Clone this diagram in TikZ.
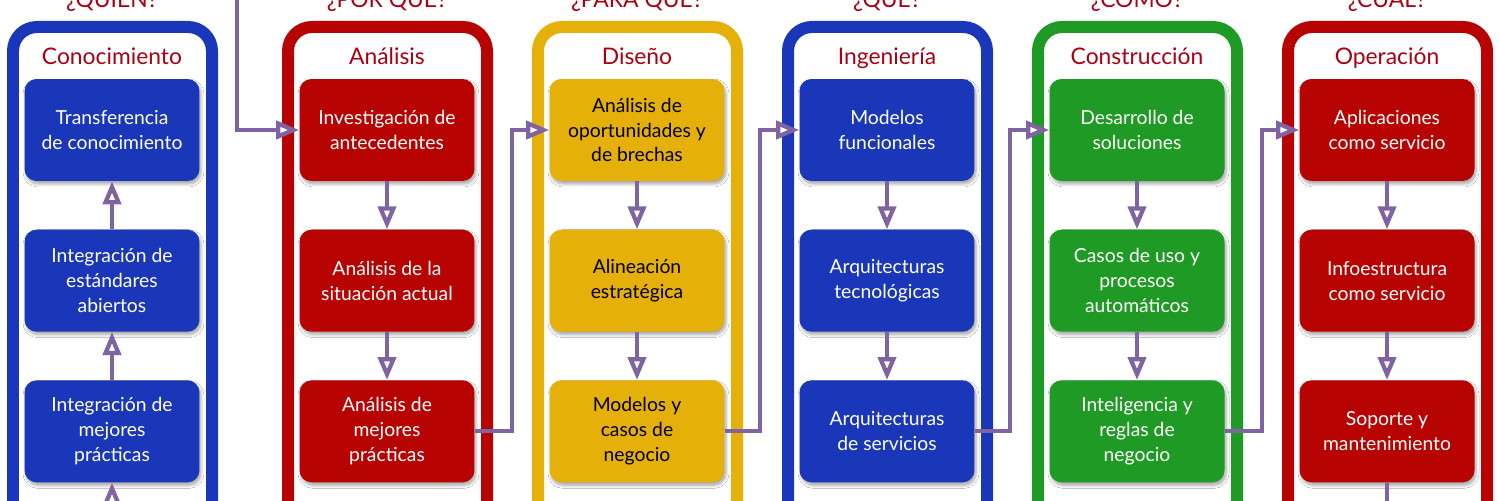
\documentclass[tikz,border=0pt]{standalone}
\usepackage{fontspec}
\setmainfont{Lato}
\usetikzlibrary{arrows.meta, positioning, shadows.blur}
\definecolor{cblue}{HTML}{1A37B9}
\definecolor{cred}{HTML}{B80303}
\definecolor{cgold}{HTML}{E6B00B}
\definecolor{cgreen}{HTML}{1F9A24}
\definecolor{titlered}{HTML}{AA0014}
\definecolor{flowpurple}{HTML}{8064A2}
\tikzset{
  colframe/.style={line width=2.4mm, rounded corners=4.8mm},
  stepbox/.style={rounded corners=2.4mm, minimum width=3.5cm, minimum height=2.04cm, inner sep=2pt,
    align=center, font=\fontsize{11}{14.2}\selectfont, text=white,
    blur shadow={shadow xshift=0.3mm, shadow yshift=-0.6mm, shadow blur steps=6, shadow blur radius=0.6mm, shadow opacity=35}},
  coltitle/.style={anchor=base, font=\fontsize{13}{15}\selectfont, text=titlered},
  question/.style={anchor=base, font=\fontsize{13}{15}\selectfont, text=titlered},
  flow/.style={-{Triangle[length=4.6mm, width=3.6mm, fill=white]}, draw=flowpurple, line width=0.85mm},
  link/.style={draw=flowpurple, line width=0.85mm}
}

\begin{document}
\begin{tikzpicture}[x=0.02cm, y=-0.02cm, node distance=0.96cm]
\useasboundingbox (0,0) rectangle (1500,500);
\clip (0,0) rectangle (1500,500);
\fill[white] (0,0) rectangle (1500,500);

% column frames
\draw[colframe, draw=cblue] (13,560) rectangle (212,27);
\draw[colframe, draw=cred] (288,560) rectangle (487,27);
\draw[colframe, draw=cgold] (538,560) rectangle (737,27);
\draw[colframe, draw=cblue] (788,560) rectangle (987,27);
\draw[colframe, draw=cgreen] (1038,560) rectangle (1237,27);
\draw[colframe, draw=cred] (1288,560) rectangle (1487,27);

% questions and titles
\node[question] (qknow) at (112,8) {¿QUIÉN?};
\node[question] (qana) at (387,8) {¿POR QUÉ?};
\node[question] (qdis) at (637,8) {¿PARA QUÉ?};
\node[question] (qing) at (887,8) {¿QUÉ?};
\node[question] (qcon) at (1137,8) {¿CÓMO?};
\node[question] (qope) at (1387,8) {¿CUÁL?};
\node[coltitle] (tknow) at (112,65) {Conocimiento};
\node[coltitle] (tana) at (387,65) {Análisis};
\node[coltitle] (tdis) at (637,65) {Diseño};
\node[coltitle] (ting) at (887,65) {Ingeniería};
\node[coltitle] (tcon) at (1137,65) {Construcción};
\node[coltitle] (tope) at (1387,65) {Operación};

% Conocimiento
\node[stepbox, fill=cblue] (know1) at (112,130) {Transferencia\\de conocimiento};
\node[stepbox, fill=cblue, below=of know1] (know2) {Integración de\\estándares\\abiertos};
\node[stepbox, fill=cblue, below=of know2] (know3) {Integración de\\mejores\\prácticas};
% Analisis
\node[stepbox, fill=cred] (ana1) at (387,130) {Investigación de\\antecedentes};
\node[stepbox, fill=cred, below=of ana1] (ana2) {Análisis de la\\situación actual};
\node[stepbox, fill=cred, below=of ana2] (ana3) {Análisis de\\mejores\\prácticas};
% Diseno
\node[stepbox, fill=cgold, text=black] (dis1) at (637,130) {Análisis de\\oportunidades y\\de brechas};
\node[stepbox, fill=cgold, text=black, below=of dis1] (dis2) {Alineación\\estratégica};
\node[stepbox, fill=cgold, text=black, below=of dis2] (dis3) {Modelos y\\casos de\\negocio};
% Ingenieria
\node[stepbox, fill=cblue] (ing1) at (887,130) {Modelos\\funcionales};
\node[stepbox, fill=cblue, below=of ing1] (ing2) {Arquitecturas\\tecnológicas};
\node[stepbox, fill=cblue, below=of ing2] (ing3) {Arquitecturas\\de servicios};
% Construccion
\node[stepbox, fill=cgreen] (con1) at (1137,130) {Desarrollo de\\soluciones};
\node[stepbox, fill=cgreen, below=of con1] (con2) {Casos de uso y\\procesos\\automáticos};
\node[stepbox, fill=cgreen, below=of con2] (con3) {Inteligencia y\\reglas de\\negocio};
% Operacion
\node[stepbox, fill=cred] (ope1) at (1387,130) {Aplicaciones\\como servicio};
\node[stepbox, fill=cred, below=of ope1] (ope2) {Infoestructura\\como servicio};
\node[stepbox, fill=cred, below=of ope2] (ope3) {Soporte y\\mantenimiento};

% connectors
\coordinate (feed) at (237,-20);
\coordinate (inbot) at (112,540);
\coordinate (outbot) at (1387,540);
\coordinate (j2) at (512,0);
\coordinate (j3) at (760,0);
\coordinate (j4) at (1010,0);
\coordinate (j5) at (1262,0);
\draw[flow] (inbot)--(know3); \draw[flow] (know3)--(know2); \draw[flow] (know2)--(know1);
\draw[flow] (feed) |- (ana1.west);
\draw[flow] (ana1)--(ana2); \draw[flow] (ana2)--(ana3);
\draw[flow] (ana3.east) -- (ana3.east -| j2) |- (dis1.west);
\draw[flow] (dis1)--(dis2); \draw[flow] (dis2)--(dis3);
\draw[flow] (dis3.east) -- (dis3.east -| j3) |- (ing1.west);
\draw[flow] (ing1)--(ing2); \draw[flow] (ing2)--(ing3);
\draw[flow] (ing3.east) -- (ing3.east -| j4) |- (con1.west);
\draw[flow] (con1)--(con2); \draw[flow] (con2)--(con3);
\draw[flow] (con3.east) -- (con3.east -| j5) |- (ope1.west);
\draw[flow] (ope1)--(ope2); \draw[flow] (ope2)--(ope3);
\draw[link] (ope3)--(outbot);
\end{tikzpicture}
\end{document}
